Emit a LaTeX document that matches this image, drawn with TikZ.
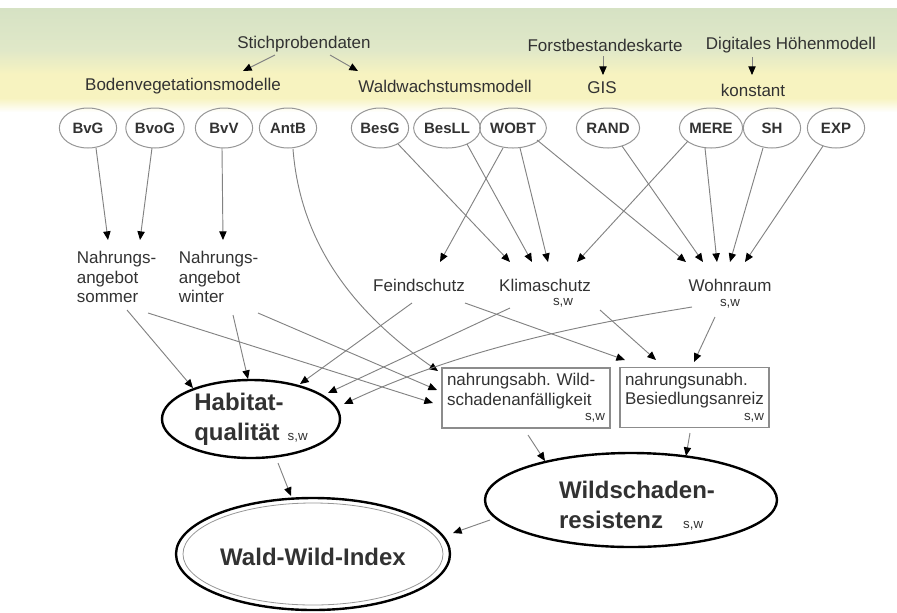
\documentclass[tikz,border=0pt]{standalone}
\usepackage{fontspec}
\setmainfont{Liberation Sans}
\usetikzlibrary{shapes.geometric,arrows.meta,calc}
\definecolor{gA}{RGB}{214,226,196}
\definecolor{gB}{RGB}{224,232,200}
\definecolor{yA}{RGB}{247,243,192}
\definecolor{txt}{RGB}{50,50,50}
\definecolor{ln}{RGB}{130,130,130}
\definecolor{elg}{RGB}{150,150,150}
\definecolor{bxg}{RGB}{140,140,140}
\newcommand{\swf}{\fontsize{10}{11}\selectfont}
\begin{document}
\begin{tikzpicture}[x=0.75pt,y=-0.75pt,
  txtf/.style={font=\fontsize{12.75}{14.6}\selectfont, text=txt, inner sep=0pt},
  smallel/.style={ellipse, draw=elg, line width=0.75pt, text=txt,
    font=\bfseries\fontsize{11.25}{13}\selectfont,
    minimum width=43pt, minimum height=30pt, inner sep=0.5pt},
  bigel/.style={ellipse, draw=black, line width=1.8pt, inner sep=0pt},
  bigtxt/.style={font=\bfseries\fontsize{18}{22.5}\selectfont, text=txt, align=left, inner sep=0pt},
  boxn/.style={draw=bxg, line width=0.8pt, text=txt, align=left, inner sep=3.75pt,
    font=\fontsize{12.75}{14.6}\selectfont, minimum height=45pt},
  swn/.style={font=\swf, text=txt, inner sep=0pt},
  con/.style={draw=ln, line width=0.7pt, -{Triangle[length=6.5pt,width=5.5pt,color=black]}}]
\useasboundingbox (0,0) rectangle (897,612);
% background band
\shade[top color=gA, bottom color=gB] (0,8) rectangle (897,50);
\shade[top color=gB, bottom color=yA] (0,50) rectangle (897,74);
\fill[yA] (0,74) rectangle (897,98);
\shade[top color=yA, bottom color=white] (0,98) rectangle (897,112);

% top texts
\node[txtf] (Stich) at (304,44) {Stichprobendaten};
\node[txtf] (Boden) at (183,86) {Bodenvegetationsmodelle};
\node[txtf] (Wald) at (445,86) {Waldwachstumsmodell};
\node[txtf] (Forst) at (605,45) {Forstbestandeskarte};
\node[txtf] (DHM) at (791,45) {Digitales Höhenmodell};
\node[txtf] (GIS) at (602,88) {GIS};
\node[txtf] (konst) at (753,90) {konstant};

% small ellipses
\foreach \n/\x in {BvG/88, BvoG/155, BvV/224, AntB/288, BesG/380, BesLL/447, WOBT/513, RAND/608, MERE/711, SH/772, EXP/836}
  \node[smallel] (\n) at (\x,128) {\n};

% middle labels
\node[txtf, align=left] (som) at (116.5,277) {Nahrungs-\\angebot\\sommer};
\node[txtf, align=left] (win) at (218.5,277) {Nahrungs-\\angebot\\winter};
\node[txtf] (Fe) at (419,285) {Feindschutz};
\node[txtf] (Kl) at (545,285) {Klimaschutz};
\node[swn] (Klsw) at (563,303) {s,w};
\node[txtf] (Wo) at (730,285) {Wohnraum};
\node[swn] (Wosw) at (730,304) {s,w};

% boxes
\node[boxn, text width=118.5pt] (B1) at (526,398) {nahrungsabh.\ Wild-\\schadenanfälligkeit\\[-3pt]\hfill{\swf s,w}};
\node[boxn, text width=104.25pt] (B2) at (694.5,397.5) {nahrungsunabh.\\Besiedlungsanreiz\\[-3pt]\hfill{\swf s,w}};

% big ellipses
\node[bigel, minimum width=133.5pt, minimum height=58.5pt,
  label={[bigtxt]center:Habitat-\\qualität\hspace{6pt}{\mdseries\swf s,w}}] (Hab) at (251,419) {};
\node[bigel, minimum width=219pt, minimum height=70.5pt,
  label={[bigtxt, xshift=4.5pt, yshift=-4.5pt]center:Wildschaden-\\resistenz\hspace{15pt}{\mdseries\swf s,w}}] (WSR) at (631,500) {};
\node[bigel, minimum width=205.5pt, minimum height=84pt,
  label={[bigtxt, yshift=-2pt]center:Wald-Wild-Index}] (WWI) at (313,554) {};
\draw[elg, line width=0.6pt] (WWI.center) ellipse [x radius=97.5pt, y radius=38.25pt];

% top arrows
\draw[con] ($(Stich)+(-29,11)$) -- ($(Boden)+(60,-15)$);
\draw[con] ($(Stich)+(26,11)$) -- ($(Wald)+(-87,-15)$);
\draw[con] ($(Forst)+(-2,11)$) -- ($(GIS)+(1,-13)$);
\draw[con] ($(DHM)+(-39,12)$) -- ($(konst)+(-1,-15)$);

% ellipses to middle labels
\draw[con] ($(BvG)+(8,20)$) -- ($(som)+(-8.5,-37)$);
\draw[con] ($(BvoG)+(-3,20)$) -- ($(som)+(23.5,-37)$);
\draw[con] ($(BvV)+(-2,20)$) -- ($(win)+(4.5,-37)$);
\draw[con] ($(WOBT)+(-10,20)$) -- ($(Fe)+(21,-23)$);
\draw[con] ($(BesG)+(18,16)$) -- ($(Kl)+(-35,-23)$);
\draw[con] ($(BesLL)+(20,16)$) -- ($(Kl)+(-13,-23)$);
\draw[con] ($(WOBT)+(7,20)$) -- ($(Kl)+(3,-23)$);
\draw[con] ($(MERE)+(-23,13)$) -- ($(Kl)+(32,-23)$);
\draw[con] ($(WOBT)+(24,12)$) -- ($(Wo)+(-44,-23)$);
\draw[con] ($(RAND)+(14,18)$) -- ($(Wo)+(-27,-23)$);
\draw[con] ($(MERE)+(-6,20)$) -- ($(Wo)+(-13,-23)$);
\draw[con] ($(SH)+(-9,20)$) -- ($(Wo)+(0,-23)$);
\draw[con] ($(EXP)+(-13,18)$) -- ($(Wo)+(15,-23)$);

% AntB curve to box 1
\draw[con] ($(AntB)+(5,21)$) .. controls ($(AntB)+(12,112)$) and ($(B1)+(-176,-88)$) .. ($(B1)+(-88,-27)$);

% to Habitat
\draw[con] ($(som)+(10.5,33)$) -- ($(Hab)+(-58,-31)$);
\draw[con] ($(win)+(14.5,38)$) -- ($(Hab)+(-3,-40)$);
\draw[con] ($(Fe)+(-7,18)$) -- ($(Hab)+(49,-35)$);
\draw[con] ($(Kl)+(-35,23)$) -- ($(Hab)+(77,-26)$);
\draw[con] ($(Wo)+(-38,22)$) .. controls ($(Wo)+(-130,37)$) and ($(Hab)+(219,-74)$) .. ($(Hab)+(93,-15)$);

% to box 1
\draw[con] ($(som)+(31.5,36)$) -- ($(B1)+(-93,5)$);
\draw[con] ($(win)+(39.5,36)$) -- ($(B1)+(-89,-8)$);

% to box 2
\draw[con] ($(Fe)+(46,18)$) -- ($(B2)+(-69.5,-37.5)$);
\draw[con] ($(Kl)+(55,25)$) -- ($(B2)+(-38.5,-37.5)$);
\draw[con] ($(Wo)+(-15,32)$) -- ($(B2)+(-0.5,-35.5)$);

% to Wildschadenresistenz
\draw[con] ($(B1)+(2,37)$) -- ($(WSR)+(-86,-39)$);
\draw[con] ($(B2)+(-4.5,35.5)$) -- ($(WSR)+(55,-44)$);

% to Wald-Wild-Index
\draw[con] ($(Hab)+(27,44)$) -- ($(WWI)+(-22,-58)$);
\draw[con] ($(WSR)+(-141,20)$) -- ($(WWI)+(140,-21)$);
\end{tikzpicture}
\end{document}
